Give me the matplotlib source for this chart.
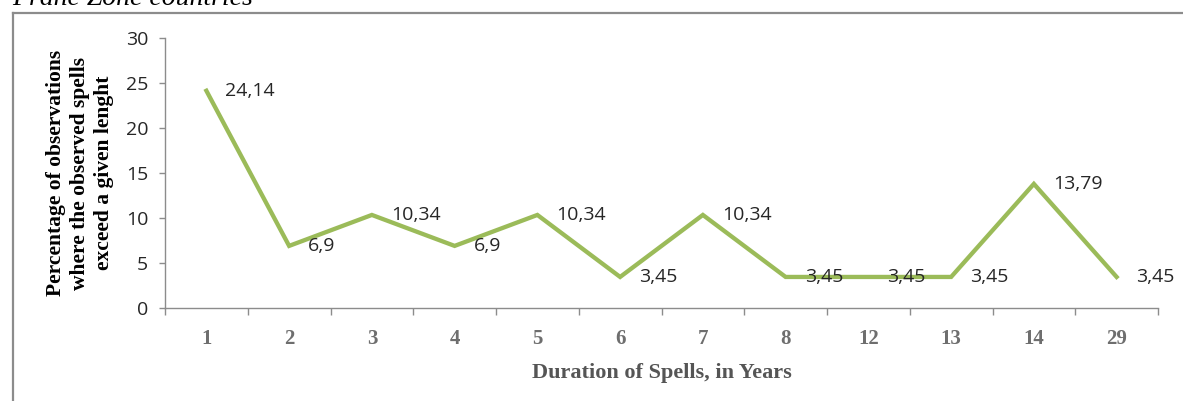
import matplotlib
matplotlib.use("Agg")
import matplotlib.pyplot as plt
from matplotlib.lines import Line2D
from matplotlib.ticker import FixedLocator, NullFormatter

categories = ["1", "2", "3", "4", "5", "6", "7", "8", "12", "13", "14", "29"]
values = [24.14, 6.9, 10.34, 6.9, 10.34, 3.45, 10.34, 3.45, 3.45, 3.45, 13.79, 3.45]
value_labels = ["24,14", "6,9", "10,34", "6,9", "10,34", "3,45", "10,34", "3,45", "3,45", "3,45", "13,79", "3,45"]
y_ticks = [0, 5, 10, 15, 20, 25, 30]

W, H, DPI = 1183, 401, 100
fig = plt.figure(figsize=(W / DPI, H / DPI), dpi=DPI)
fig.patch.set_facecolor("white")

# outer frame (top and left visible)
fc = "#8c8c8c"
fig.add_artist(Line2D([13 / W, 1.0], [1 - 13 / H, 1 - 13 / H], transform=fig.transFigure, color=fc, lw=1.6))
fig.add_artist(Line2D([13 / W, 13 / W], [0, 1 - 13 / H], transform=fig.transFigure, color=fc, lw=1.6))

# cut title at top
fig.text(12 / W, 1 - 5 / H, "Franc Zone countries", fontsize=20, fontstyle="italic",
         family="Liberation Serif", va="baseline", ha="left", color="black")

left, right, bottom, top = 165, 1158, 308, 38
ax = fig.add_axes([left / W, 1 - bottom / H, (right - left) / W, (bottom - top) / H])

x = list(range(len(categories)))
ax.plot(x, values, color="#9BBB59", lw=3.1, solid_joinstyle="miter")

for xi, v, lab in zip(x, values, value_labels):
    ax.annotate(lab, (xi, v), xytext=(19, 0), textcoords="offset pixels",
                ha="left", va="center", fontsize=14, family="Open Sans", color="#262626")

ax.set_xlim(-0.5, len(categories) - 0.5)
ax.set_ylim(0, 30)

spine_c = "#8c8c8c"
for s in ["top", "right"]:
    ax.spines[s].set_visible(False)
for s in ["left", "bottom"]:
    ax.spines[s].set_color(spine_c)
    ax.spines[s].set_linewidth(1.0)

ax.set_yticks(y_ticks)
ax.set_yticklabels([str(t) for t in y_ticks], fontsize=14, family="Open Sans", color="#262626")
ax.tick_params(axis="y", direction="out", length=4, width=1, color=spine_c, pad=8)

# x ticks at category boundaries, labels at centers
ax.xaxis.set_major_locator(FixedLocator([i - 0.5 for i in range(len(categories) + 1)]))
ax.xaxis.set_major_formatter(NullFormatter())
ax.xaxis.set_minor_locator(FixedLocator(x))
ax.set_xticklabels(categories, minor=True, fontsize=15, family="Liberation Serif",
                   fontweight="bold", color="#6e6e6e")
ax.tick_params(axis="x", which="major", direction="out", length=5, width=1, color=spine_c)
ax.tick_params(axis="x", which="minor", length=0, pad=15)

ax.set_xlabel("Duration of Spells, in Years", fontsize=16, family="Liberation Serif",
              fontweight="bold", color="#555555", labelpad=10)

fig.text(80 / W, 1 - 173 / H,
         "Percentage of observations\nwhere the observed spells\nexceed a given lenght",
         rotation=90, ha="center", va="center", multialignment="center",
         fontsize=15.5, family="Liberation Serif", fontweight="bold", linespacing=1.3,
         color="black")

fig.savefig("out.png", dpi=DPI, facecolor="white")
